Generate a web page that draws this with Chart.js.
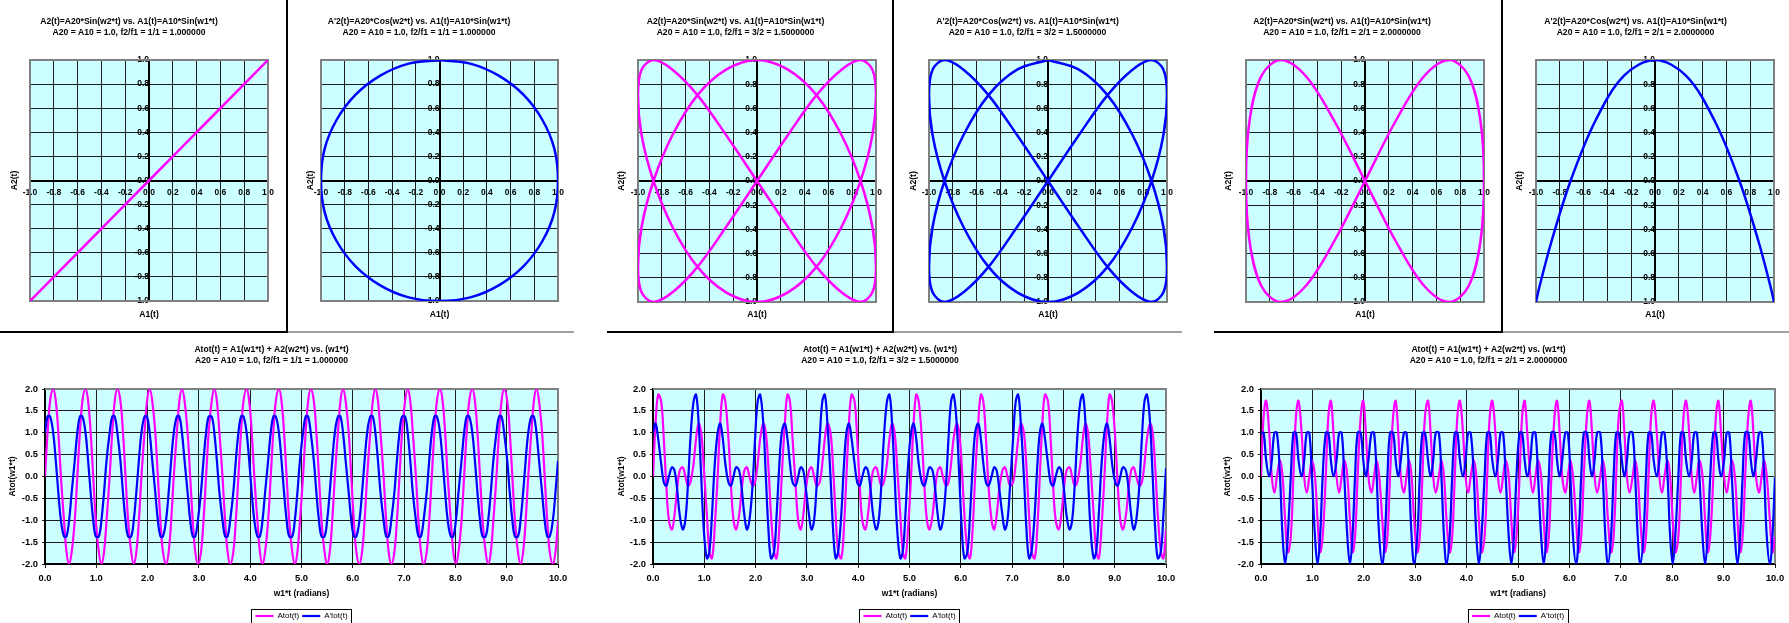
<!DOCTYPE html>
<html>
<head>
<meta charset="utf-8">
<script src="https://cdn.jsdelivr.net/npm/chart.js@4.4.1/dist/chart.umd.min.js"></script>
<style>
html,body{margin:0;padding:0;background:#fff;width:1789px;height:623px;overflow:hidden;position:relative;}
canvas{position:absolute;}
.ln{position:absolute;}
</style>
</head>
<body>
<div class="ln" style="left:0;top:331px;width:288px;height:2px;background:#000"></div>
<div class="ln" style="left:286px;top:0;width:2px;height:333px;background:#000"></div>
<div class="ln" style="left:288px;top:331px;width:286px;height:2px;background:#a0a0a0"></div>
<div class="ln" style="left:607px;top:331px;width:287px;height:2px;background:#000"></div>
<div class="ln" style="left:892px;top:0;width:2px;height:333px;background:#000"></div>
<div class="ln" style="left:894px;top:331px;width:288px;height:2px;background:#a0a0a0"></div>
<div class="ln" style="left:1214px;top:331px;width:289px;height:2px;background:#000"></div>
<div class="ln" style="left:1501px;top:0;width:2px;height:333px;background:#000"></div>
<div class="ln" style="left:1503px;top:331px;width:286px;height:2px;background:#a0a0a0"></div>
<script>
// w1*t sample points (radians)
let w1t = [
0,0.05,0.10,0.16,0.21,0.26,0.31,0.37,0.42,0.47,0.52,0.58,
0.63,0.68,0.73,0.79,0.84,0.89,0.94,0.99,1.05,1.10,1.15,1.20,
1.26,1.31,1.36,1.41,1.47,1.52,1.57,1.62,1.68,1.73,1.78,1.83,
1.88,1.94,1.99,2.04,2.09,2.15,2.20,2.25,2.30,2.36,2.41,2.46,
2.51,2.57,2.62,2.67,2.72,2.78,2.83,2.88,2.93,2.98,3.04,3.09,
3.14,3.19,3.25,3.30,3.35,3.40,3.46,3.51,3.56,3.61,3.67,3.72,
3.77,3.82,3.87,3.93,3.98,4.03,4.08,4.14,4.19,4.24,4.29,4.35,
4.40,4.45,4.50,4.56,4.61,4.66,4.71,4.76,4.82,4.87,4.92,4.97,
5.03,5.08,5.13,5.18,5.24,5.29,5.34,5.39,5.45,5.50,5.55,5.60,
5.65,5.71,5.76,5.81,5.86,5.92,5.97,6.02,6.07,6.13,6.18,6.23,
6.28,6.34,6.39,6.44,6.49,6.54,6.60,6.65,6.70,6.75,6.81,6.86,
6.91,6.96,7.02,7.07,7.12,7.17,7.23,7.28,7.33,7.38,7.44,7.49,
7.54,7.59,7.64,7.70,7.75,7.80,7.85,7.91,7.96,8.01,8.06,8.12,
8.17,8.22,8.27,8.33,8.38,8.43,8.48,8.53,8.59,8.64,8.69,8.74,
8.80,8.85,8.90,8.95,9.01,9.06,9.11,9.16,9.22,9.27,9.32,9.37,
9.42,9.48,9.53,9.58,9.63,9.69,9.74,9.79,9.84,9.90,9.95,10
];

// f2/f1 = 1/1
let atot11 = [
0,1,1.73,2,1.73,1,0,-1,-1.73,-2,-1.73,-1,
0,1,1.73,2,1.73,1,0,-1,-1.73,-2,-1.73,-1,
0,1,1.73,2,1.73,1,0,-1,-1.73,-2,-1.73,-1,
0,1,1.73,2,1.73,1,0,-1,-1.73,-2,-1.73,-1,
0,1,1.73,2,1.73,1,0,-1,-1.73,-2,-1.73,-1,
0,1,1.73,2,1.73,1,0,-1,-1.73,-2,-1.73,-1,
0,1,1.73,2,1.73,1,0,-1,-1.73,-2,-1.73,-1,
0,1,1.73,2,1.73,1,0,-1,-1.73,-2,-1.73,-1,
0,1,1.73,2,1.73,1,0,-1,-1.73,-2,-1.73,-1,
0,1,1.73,2,1.73,1,0,-1,-1.73,-2,-1.73,-1,
0,1,1.73,2,1.73,1,0,-1,-1.73,-2,-1.73,-1,
0,1,1.73,2,1.73,1,0,-1,-1.73,-2,-1.73,-1,
0,1,1.73,2,1.73,1,0,-1,-1.73,-2,-1.73,-1,
0,1,1.73,2,1.73,1,0,-1,-1.73,-2,-1.73,-1,
0,1,1.73,2,1.73,1,0,-1,-1.73,-2,-1.73,-1,
0,1,1.73,2,1.73,1,0,-1,-1.73,-2,-1.73,-1.01
];
let atotP11 = [
1,1.37,1.37,1,0.37,-0.37,-1,-1.37,-1.37,-1,-0.37,0.37,
1,1.37,1.37,1,0.37,-0.37,-1,-1.37,-1.37,-1,-0.37,0.37,
1,1.37,1.37,1,0.37,-0.37,-1,-1.37,-1.37,-1,-0.37,0.37,
1,1.37,1.37,1,0.37,-0.37,-1,-1.37,-1.37,-1,-0.37,0.37,
1,1.37,1.37,1,0.37,-0.37,-1,-1.37,-1.37,-1,-0.37,0.37,
1,1.37,1.37,1,0.37,-0.37,-1,-1.37,-1.37,-1,-0.37,0.37,
1,1.37,1.37,1,0.37,-0.37,-1,-1.37,-1.37,-1,-0.37,0.37,
1,1.37,1.37,1,0.37,-0.37,-1,-1.37,-1.37,-1,-0.37,0.37,
1,1.37,1.37,1,0.37,-0.37,-1,-1.37,-1.37,-1,-0.37,0.37,
1,1.37,1.37,1,0.37,-0.37,-1,-1.37,-1.37,-1,-0.37,0.37,
1,1.37,1.37,1,0.37,-0.37,-1,-1.37,-1.37,-1,-0.37,0.37,
1,1.37,1.37,1,0.37,-0.37,-1,-1.37,-1.37,-1,-0.37,0.37,
1,1.37,1.37,1,0.37,-0.37,-1,-1.37,-1.37,-1,-0.37,0.37,
1,1.37,1.37,1,0.37,-0.37,-1,-1.37,-1.37,-1,-0.37,0.37,
1,1.37,1.37,1,0.37,-0.37,-1,-1.37,-1.37,-1,-0.37,0.37,
1,1.37,1.37,1,0.37,-0.37,-1,-1.37,-1.37,-1,-0.37,0.36
];

// f2/f1 = 3/2
let atot32 = [
0,1.21,1.87,1.71,0.87,-0.21,-1,-1.21,-0.87,-0.29,0.13,0.21,0,-0.21,-0.13,0.29,0.87,1.21,1,0.21,-0.87,-1.71,-1.87,-1.21,
0,1.21,1.87,1.71,0.87,-0.21,-1,-1.21,-0.87,-0.29,0.13,0.21,0,-0.21,-0.13,0.29,0.87,1.21,1,0.21,-0.87,-1.71,-1.87,-1.21,
0,1.21,1.87,1.71,0.87,-0.21,-1,-1.21,-0.87,-0.29,0.13,0.21,0,-0.21,-0.13,0.29,0.87,1.21,1,0.21,-0.87,-1.71,-1.87,-1.21,
0,1.21,1.87,1.71,0.87,-0.21,-1,-1.21,-0.87,-0.29,0.13,0.21,0,-0.21,-0.13,0.29,0.87,1.21,1,0.21,-0.87,-1.71,-1.87,-1.21,
0,1.21,1.87,1.71,0.87,-0.21,-1,-1.21,-0.87,-0.29,0.13,0.21,0,-0.21,-0.13,0.29,0.87,1.21,1,0.21,-0.87,-1.71,-1.87,-1.21,
0,1.21,1.87,1.71,0.87,-0.21,-1,-1.21,-0.87,-0.29,0.13,0.21,0,-0.21,-0.13,0.29,0.87,1.21,1,0.21,-0.87,-1.71,-1.87,-1.21,
0,1.21,1.87,1.71,0.87,-0.21,-1,-1.21,-0.87,-0.29,0.13,0.21,0,-0.21,-0.13,0.29,0.87,1.21,1,0.21,-0.87,-1.71,-1.87,-1.21,
0,1.21,1.87,1.71,0.87,-0.21,-1,-1.21,-0.87,-0.29,0.13,0.21,0,-0.21,-0.13,0.29,0.87,1.21,1,0.21,-0.87,-1.71,-1.87,-1.22
];
let atotP32 = [
1,1.21,0.87,0.29,-0.13,-0.21,0,0.21,0.13,-0.29,-0.87,-1.21,-1,-0.21,0.87,1.71,1.87,1.21,0,-1.21,-1.87,-1.71,-0.87,0.21,
1,1.21,0.87,0.29,-0.13,-0.21,0,0.21,0.13,-0.29,-0.87,-1.21,-1,-0.21,0.87,1.71,1.87,1.21,0,-1.21,-1.87,-1.71,-0.87,0.21,
1,1.21,0.87,0.29,-0.13,-0.21,0,0.21,0.13,-0.29,-0.87,-1.21,-1,-0.21,0.87,1.71,1.87,1.21,0,-1.21,-1.87,-1.71,-0.87,0.21,
1,1.21,0.87,0.29,-0.13,-0.21,0,0.21,0.13,-0.29,-0.87,-1.21,-1,-0.21,0.87,1.71,1.87,1.21,0,-1.21,-1.87,-1.71,-0.87,0.21,
1,1.21,0.87,0.29,-0.13,-0.21,0,0.21,0.13,-0.29,-0.87,-1.21,-1,-0.21,0.87,1.71,1.87,1.21,0,-1.21,-1.87,-1.71,-0.87,0.21,
1,1.21,0.87,0.29,-0.13,-0.21,0,0.21,0.13,-0.29,-0.87,-1.21,-1,-0.21,0.87,1.71,1.87,1.21,0,-1.21,-1.87,-1.71,-0.87,0.21,
1,1.21,0.87,0.29,-0.13,-0.21,0,0.21,0.13,-0.29,-0.87,-1.21,-1,-0.21,0.87,1.71,1.87,1.21,0,-1.21,-1.87,-1.71,-0.87,0.21,
1,1.21,0.87,0.29,-0.13,-0.21,0,0.21,0.13,-0.29,-0.87,-1.21,-1,-0.21,0.87,1.71,1.87,1.21,0,-1.21,-1.87,-1.71,-0.87,0.19
];

// f2/f1 = 2/1
let atot21 = [
0,1.37,1.73,1,0,-0.37,0,0.37,0,-1,-1.73,-1.37,
0,1.37,1.73,1,0,-0.37,0,0.37,0,-1,-1.73,-1.37,
0,1.37,1.73,1,0,-0.37,0,0.37,0,-1,-1.73,-1.37,
0,1.37,1.73,1,0,-0.37,0,0.37,0,-1,-1.73,-1.37,
0,1.37,1.73,1,0,-0.37,0,0.37,0,-1,-1.73,-1.37,
0,1.37,1.73,1,0,-0.37,0,0.37,0,-1,-1.73,-1.37,
0,1.37,1.73,1,0,-0.37,0,0.37,0,-1,-1.73,-1.37,
0,1.37,1.73,1,0,-0.37,0,0.37,0,-1,-1.73,-1.37,
0,1.37,1.73,1,0,-0.37,0,0.37,0,-1,-1.73,-1.37,
0,1.37,1.73,1,0,-0.37,0,0.37,0,-1,-1.73,-1.37,
0,1.37,1.73,1,0,-0.37,0,0.37,0,-1,-1.73,-1.37,
0,1.37,1.73,1,0,-0.37,0,0.37,0,-1,-1.73,-1.37,
0,1.37,1.73,1,0,-0.37,0,0.37,0,-1,-1.73,-1.37,
0,1.37,1.73,1,0,-0.37,0,0.37,0,-1,-1.73,-1.37,
0,1.37,1.73,1,0,-0.37,0,0.37,0,-1,-1.73,-1.37,
0,1.37,1.73,1,0,-0.37,0,0.37,0,-1,-1.73,-1.38
];
let atotP21 = [
1,1,0.37,0,0.37,1,1,0,-1.37,-2,-1.37,0,
1,1,0.37,0,0.37,1,1,0,-1.37,-2,-1.37,0,
1,1,0.37,0,0.37,1,1,0,-1.37,-2,-1.37,0,
1,1,0.37,0,0.37,1,1,0,-1.37,-2,-1.37,0,
1,1,0.37,0,0.37,1,1,0,-1.37,-2,-1.37,0,
1,1,0.37,0,0.37,1,1,0,-1.37,-2,-1.37,0,
1,1,0.37,0,0.37,1,1,0,-1.37,-2,-1.37,0,
1,1,0.37,0,0.37,1,1,0,-1.37,-2,-1.37,0,
1,1,0.37,0,0.37,1,1,0,-1.37,-2,-1.37,0,
1,1,0.37,0,0.37,1,1,0,-1.37,-2,-1.37,0,
1,1,0.37,0,0.37,1,1,0,-1.37,-2,-1.37,0,
1,1,0.37,0,0.37,1,1,0,-1.37,-2,-1.37,0,
1,1,0.37,0,0.37,1,1,0,-1.37,-2,-1.37,0,
1,1,0.37,0,0.37,1,1,0,-1.37,-2,-1.37,0,
1,1,0.37,0,0.37,1,1,0,-1.37,-2,-1.37,0,
1,1,0.37,0,0.37,1,1,0,-1.37,-2,-1.37,-0.02
];

// A1(t) vs A2(t) curves
let a1_11 = [-1,-0.5,0,0.5,1];
let a2_11 = [-1,-0.5,0,0.5,1];
let a1c_11 = [0,0.26,0.5,0.71,0.87,0.97,1,0.97,0.87,0.71,0.5,0.26,0,-0.26,-0.5,-0.71,-0.87,-0.97,-1,-0.97,-0.87,-0.71,-0.5,-0.26,0];
let a2c_11 = [1,0.97,0.87,0.71,0.5,0.26,0,-0.26,-0.5,-0.71,-0.87,-0.97,-1,-0.97,-0.87,-0.71,-0.5,-0.26,0,0.26,0.5,0.71,0.87,0.97,1];

let a1_32 = [
0,0.26,0.5,0.71,0.87,0.97,1,0.97,0.87,0.71,0.5,0.26,0,-0.26,-0.5,-0.71,-0.87,-0.97,-1,-0.97,-0.87,-0.71,-0.5,-0.26,
0,0.26,0.5,0.71,0.87,0.97,1,0.97,0.87,0.71,0.5,0.26,0,-0.26,-0.5,-0.71,-0.87,-0.97,-1,-0.97,-0.87,-0.71,-0.5,-0.26,0];
let a2_32 = [
0,0.38,0.71,0.92,1,0.92,0.71,0.38,0,-0.38,-0.71,-0.92,-1,-0.92,-0.71,-0.38,
0,0.38,0.71,0.92,1,0.92,0.71,0.38,0,-0.38,-0.71,-0.92,-1,-0.92,-0.71,-0.38,
0,0.38,0.71,0.92,1,0.92,0.71,0.38,0,-0.38,-0.71,-0.92,-1,-0.92,-0.71,-0.38,0];
let a2c_32 = [
1,0.92,0.71,0.38,0,-0.38,-0.71,-0.92,-1,-0.92,-0.71,-0.38,0,0.38,0.71,0.92,
1,0.92,0.71,0.38,0,-0.38,-0.71,-0.92,-1,-0.92,-0.71,-0.38,0,0.38,0.71,0.92,
1,0.92,0.71,0.38,0,-0.38,-0.71,-0.92,-1,-0.92,-0.71,-0.38,0,0.38,0.71,0.92,1];

let a1_21 = [0,0.26,0.5,0.71,0.87,0.97,1,0.97,0.87,0.71,0.5,0.26,0,-0.26,-0.5,-0.71,-0.87,-0.97,-1,-0.97,-0.87,-0.71,-0.5,-0.26,0];
let a2_21 = [0,0.5,0.87,1,0.87,0.5,0,-0.5,-0.87,-1,-0.87,-0.5,0,0.5,0.87,1,0.87,0.5,0,-0.5,-0.87,-1,-0.87,-0.5,0];
let a1c_21 = [-1,-0.97,-0.87,-0.71,-0.5,-0.26,0,0.26,0.5,0.71,0.87,0.97,1];
let a2c_21 = [-1,-0.87,-0.5,0,0.5,0.87,1,0.87,0.5,0,-0.5,-0.87,-1];

let xyTicks = {min:-1, max:1, step:0.2};
let tTicks = {min:0, max:10, step:1};
let aTicks = {min:-2, max:2, step:0.5};

const MAG = "#ff00ff";
const BLU = "#0000ff";
const GRID = "#1c1c1c";
const FONT = "'Liberation Sans', Arial, sans-serif";

function pts(xs,ys){
return xs.map((x,i)=>({x:x,y:ys[i]}));
}

function fmt1(v){
if(Math.abs(v)<1e-9) v=0;
return v.toFixed(1);
}

const framePlugin = {
id:"frame",
beforeDraw(chart){
let a=chart.chartArea, c=chart.ctx;
c.save();
c.fillStyle="#ccffff";
c.fillRect(a.left,a.top,a.right-a.left,a.bottom-a.top);
c.restore();
},
beforeDatasetsDraw(chart,args,opts){
let a=chart.chartArea, c=chart.ctx;
c.save();
c.strokeStyle="#808080";
c.lineWidth=2;
c.beginPath();
if(opts.full){
c.rect(a.left,a.top,a.right-a.left,a.bottom-a.top);
}else{
c.moveTo(a.left,a.top);
c.lineTo(a.right,a.top);
c.lineTo(a.right,a.bottom);
}
c.stroke();
c.restore();
}
};

const legendBox = {
id:"legendBox",
afterDraw(chart){
let lg=chart.legend;
if(!lg || !lg.options.display) return;
let l=1e9,r=-1e9,t=1e9,b=-1e9;
lg.legendHitBoxes.forEach(h=>{
l=Math.min(l,h.left); r=Math.max(r,h.left+h.width);
t=Math.min(t,h.top); b=Math.max(b,h.top+h.height);
});
let c=chart.ctx;
c.save();
c.strokeStyle="#000";
c.lineWidth=1;
c.strokeRect(Math.round(l-4)+0.5,Math.round(t-3)+0.5,Math.round(r-l+8),Math.round(b-t+6));
c.restore();
}
};

function makeCanvas(left,top,w,h){
let cv=document.createElement("canvas");
cv.width=w; cv.height=h;
cv.style.left=left+"px"; cv.style.top=top+"px";
cv.style.width=w+"px"; cv.style.height=h+"px";
document.body.appendChild(cv);
return cv;
}

// top row: A2 vs A1 plots
function lissChart(g){
let W=300, H=332;
let left=g.cx-W/2;
let cv=makeCanvas(left,0,W,H);
let fs=8.6, lh=fs*1.2;
let tickFont={family:FONT,size:8.5,weight:"bold"};
let titleFont={family:FONT,size:8.6,weight:"bold"};
let padTop=22-lh/2;
new Chart(cv,{
type:"line",
data:{datasets:[{data:pts(g.xs,g.ys),borderColor:g.color,borderWidth:2.5,pointRadius:0,tension:0.35,fill:false,xAxisID:"x",yAxisID:"y"}]},
options:{
responsive:false,animation:false,events:[],devicePixelRatio:1,
layout:{padding:{left:0,right:W-(g.plot[1]-left),top:0,bottom:0}},
plugins:{
legend:{display:false},tooltip:{enabled:false},
title:{display:true,text:g.title,color:"#000",font:titleFont,padding:{top:padTop,bottom:g.plot[2]-padTop-2*lh}},
frame:{full:true}
},
scales:{
x:{type:"linear",position:{y:0},min:xyTicks.min,max:xyTicks.max,
ticks:{stepSize:xyTicks.step,autoSkip:false,maxRotation:0,color:"#000",font:tickFont,padding:4,callback:fmt1},
grid:{color:GRID,lineWidth:1,tickLength:3},border:{color:"#000",width:2}},
y:{type:"linear",position:{x:0},min:xyTicks.min,max:xyTicks.max,
ticks:{stepSize:xyTicks.step,autoSkip:false,color:"#000",font:tickFont,padding:3,callback:fmt1},
grid:{color:GRID,lineWidth:1,tickLength:3},border:{color:"#000",width:2}},
xt:{type:"linear",position:"bottom",ticks:{display:false},grid:{display:false},border:{display:false},
title:{display:true,text:"A1(t)",color:"#000",font:titleFont,padding:{top:0,bottom:H-315-lh/2}},
afterFit(s){s.height=H-g.plot[3];}},
yt:{type:"linear",position:"left",ticks:{display:false},grid:{display:false},border:{display:false},
title:{display:true,text:g.yTitle,color:"#000",font:titleFont,padding:{top:g.ytx-left-lh/2,bottom:0}},
afterFit(s){s.width=g.plot[0]-left;}}
}
},
plugins:[framePlugin]
});
}

// bottom row: Atot vs w1*t
function timeChart(g){
let W=600, H=295, top=335;
let left=g.cx-W/2;
let cv=makeCanvas(left,top,W,H);
let lh=8.6*1.2;
let titleFont={family:FONT,size:8.6,weight:"bold"};
let tickFont={family:FONT,size:9.4,weight:"bold"};
let padTop=350-top-lh/2;
new Chart(cv,{
type:"line",
data:{datasets:[
{label:"Atot(t)",data:pts(w1t,g.m),borderColor:MAG,backgroundColor:MAG,borderWidth:2.2,pointRadius:0,tension:0.4,fill:false,order:1},
{label:"A'tot(t)",data:pts(w1t,g.b),borderColor:BLU,backgroundColor:BLU,borderWidth:2.2,pointRadius:0,tension:0.4,fill:false,order:0}
]},
options:{
responsive:false,animation:false,events:[],devicePixelRatio:1,
layout:{padding:{left:0,right:W-(g.plot[1]-left),top:0,bottom:0}},
plugins:{
tooltip:{enabled:false},
title:{display:true,text:g.title,color:"#000",font:titleFont,padding:{top:padTop,bottom:g.plot[2]-top-padTop-2*lh}},
legend:{display:true,position:"bottom",fullSize:false,
labels:{usePointStyle:true,pointStyle:"line",pointStyleWidth:18,color:"#000",font:{family:FONT,size:8},padding:3,
sort:(a,b)=>a.datasetIndex-b.datasetIndex}},
frame:{full:false}
},
scales:{
x:{type:"linear",position:"bottom",min:tTicks.min,max:tTicks.max,
ticks:{stepSize:tTicks.step,autoSkip:false,maxRotation:0,color:"#000",font:tickFont,padding:5,callback:fmt1},
grid:{color:GRID,lineWidth:1,tickLength:4},border:{color:"#000",width:2},
title:{display:true,text:"w1*t (radians)",color:"#000",font:{family:FONT,size:8.5,weight:"bold"},padding:{top:0,bottom:10}},
afterFit(s){s.height=45;}},
y:{type:"linear",position:"left",min:aTicks.min,max:aTicks.max,
ticks:{stepSize:aTicks.step,autoSkip:false,color:"#000",font:tickFont,padding:4,callback:fmt1},
grid:{color:GRID,lineWidth:1,tickLength:3},border:{color:"#000",width:2},
title:{display:true,text:"Atot(w1*t)",color:"#000",font:{family:FONT,size:8.5,weight:"bold"},padding:{top:g.ytx-left-lh/2,bottom:0}},
afterFit(s){s.width=g.plot[0]-left;}}
}
},
plugins:[framePlugin,legendBox]
});
}

const T_SIN = "A2(t)=A20*Sin(w2*t) vs. A1(t)=A10*Sin(w1*t)";
const T_COS = "A'2(t)=A20*Cos(w2*t) vs. A1(t)=A10*Sin(w1*t)";
const T_TOT = "Atot(t) = A1(w1*t) + A2(w2*t) vs. (w1*t)";
const R11 = "A20 = A10 = 1.0, f2/f1 = 1/1 = 1.000000";
const R32 = "A20 = A10 = 1.0, f2/f1 = 3/2 = 1.5000000";
const R21 = "A20 = A10 = 1.0, f2/f1 = 2/1 = 2.0000000";

lissChart({cx:140,plot:[30,268,60,301],ytx:15,title:[T_SIN,R11],yTitle:"A2(t)",xs:a1_11,ys:a2_11,color:MAG});
lissChart({cx:430,plot:[321,558,60,301],ytx:311,title:[T_COS,R11],yTitle:"A2(t)",xs:a1c_11,ys:a2c_11,color:BLU});
lissChart({cx:745,plot:[638,876,60,302],ytx:622,title:[T_SIN,R32],yTitle:"A2(t)",xs:a1_32,ys:a2_32,color:MAG});
lissChart({cx:1038,plot:[929,1167,60,302],ytx:914,title:[T_COS,R32],yTitle:"A2(t)",xs:a1_32,ys:a2c_32,color:BLU});
lissChart({cx:1350,plot:[1246,1484,60,302],ytx:1229,title:[T_SIN,R21],yTitle:"A2(t)",xs:a1_21,ys:a2_21,color:MAG});
lissChart({cx:1647,plot:[1536,1774,60,302],ytx:1520,title:[T_COS,R21],yTitle:"A2(t)",xs:a1c_21,ys:a2c_21,color:BLU});

timeChart({cx:285,plot:[45,558,389,564],ytx:13,title:[T_TOT,R11],m:atot11,b:atotP11});
timeChart({cx:894,plot:[653,1166,389,564],ytx:622,title:[T_TOT,R32],m:atot32,b:atotP32});
timeChart({cx:1502,plot:[1261,1775,389,564],ytx:1228,title:[T_TOT,R21],m:atot21,b:atotP21});
</script>
</body>
</html>
